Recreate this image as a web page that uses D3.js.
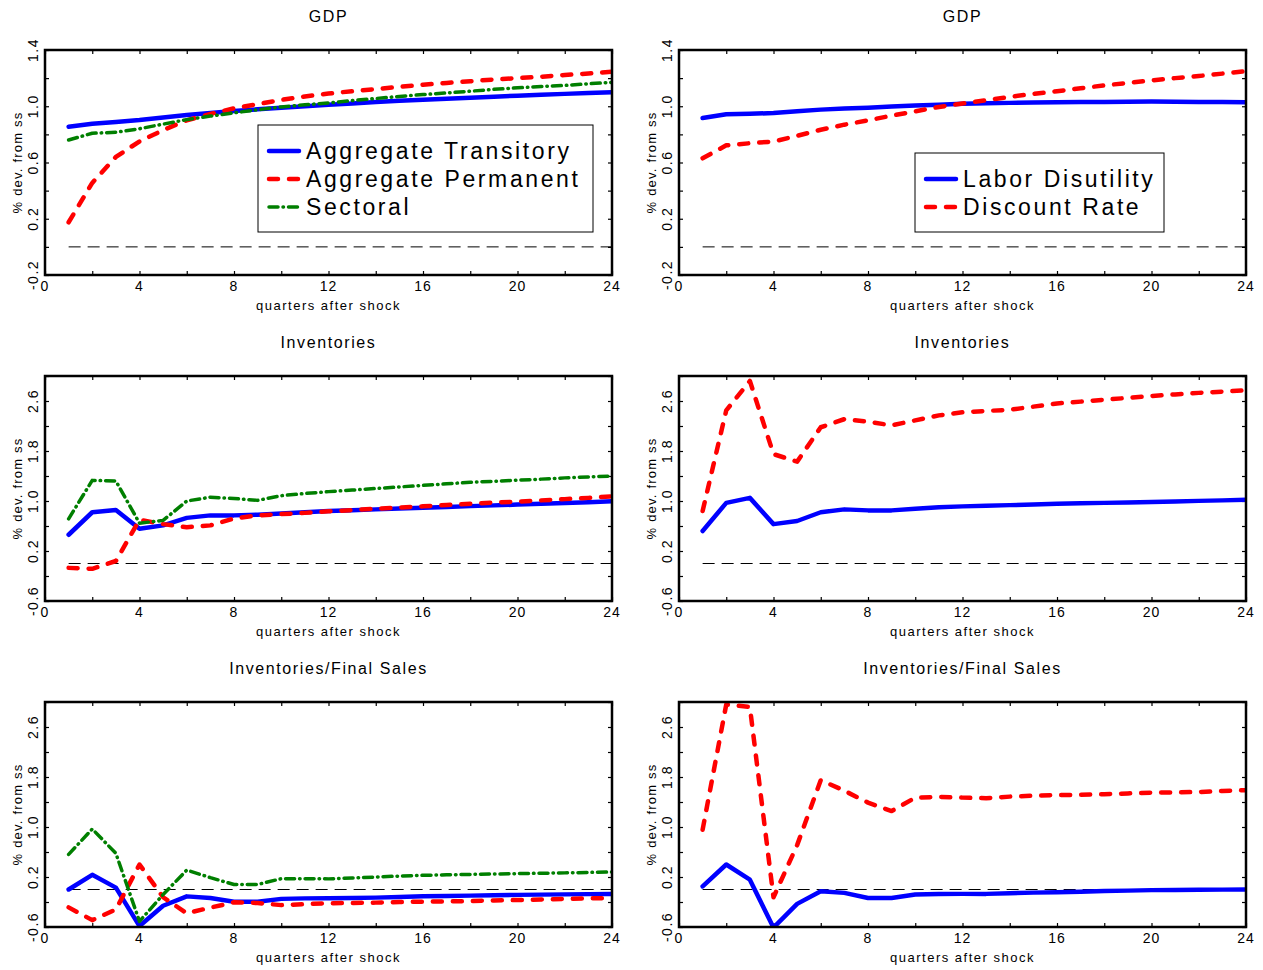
<!DOCTYPE html>
<html>
<head>
<meta charset="utf-8">
<script src="https://cdn.jsdelivr.net/npm/d3@7"></script>
<style>
body { margin: 0; background: #fff; }
text { font-family: "Liberation Sans", Arial, sans-serif; fill: #000; }
</style>
</head>
<body>
<div id="chart"></div>
<script>
// quarters after the shock
var quarters = [1,2,3,4,5,6,7,8,9,10,11,12,13,14,15,16,17,18,19,20,21,22,23,24];

var xTickLabels = [0,4,8,12,16,20,24];
var yLabelsGdp = ["-0.2","0.2","0.6","1.0","1.4"];
var yLabelsInv = ["-0.6","0.2","1.0","1.8","2.6"];

// GDP, aggregate / sectoral shocks
var gdpTransitory = [0.855,0.875,0.888,0.902,0.92,0.937,0.952,0.966,0.978,0.99,1.0,1.01,1.02,1.03,1.039,1.047,1.054,1.061,1.068,1.075,1.082,1.088,1.094,1.10];
var gdpPermanent  = [0.175,0.455,0.64,0.75,0.83,0.9,0.945,0.985,1.015,1.045,1.07,1.09,1.107,1.122,1.138,1.153,1.166,1.178,1.19,1.2,1.21,1.222,1.233,1.245];
var gdpSectoral   = [0.76,0.808,0.815,0.84,0.873,0.905,0.93,0.953,0.975,0.995,1.01,1.024,1.04,1.055,1.07,1.083,1.095,1.107,1.12,1.131,1.14,1.148,1.16,1.17];
// GDP, preference shocks
var gdpLabor    = [0.916,0.943,0.946,0.952,0.965,0.976,0.984,0.99,0.998,1.005,1.011,1.017,1.021,1.024,1.027,1.029,1.03,1.031,1.032,1.033,1.032,1.031,1.03,1.029];
var gdpDiscount = [0.63,0.722,0.737,0.749,0.79,0.833,0.869,0.90,0.933,0.964,0.995,1.019,1.043,1.067,1.088,1.107,1.128,1.148,1.166,1.184,1.2,1.215,1.232,1.25];

// Inventories
var invTransitory = [0.46,0.82,0.855,0.555,0.61,0.73,0.77,0.77,0.78,0.80,0.82,0.84,0.853,0.866,0.879,0.892,0.905,0.918,0.93,0.943,0.955,0.967,0.98,0.995];
var invPermanent  = [-0.07,-0.085,0.04,0.70,0.63,0.58,0.61,0.72,0.77,0.79,0.81,0.835,0.855,0.875,0.895,0.915,0.935,0.955,0.975,0.99,1.01,1.03,1.05,1.075];
var invSectoral   = [0.715,1.33,1.32,0.645,0.69,1.0,1.06,1.04,1.01,1.085,1.12,1.15,1.175,1.2,1.225,1.25,1.275,1.3,1.315,1.333,1.35,1.37,1.385,1.40];
var invLabor    = [0.52,0.97,1.05,0.63,0.68,0.82,0.866,0.85,0.85,0.876,0.90,0.914,0.924,0.934,0.945,0.957,0.963,0.97,0.977,0.984,0.993,1.002,1.01,1.02];
var invDiscount = [0.84,2.45,2.92,1.75,1.63,2.18,2.31,2.27,2.21,2.29,2.37,2.42,2.44,2.46,2.51,2.56,2.59,2.62,2.65,2.68,2.705,2.73,2.75,2.77];

// Inventories / Final Sales
var isTransitory = [0.0,0.235,0.03,-0.585,-0.26,-0.11,-0.135,-0.195,-0.195,-0.15,-0.142,-0.14,-0.135,-0.13,-0.12,-0.108,-0.103,-0.098,-0.092,-0.086,-0.082,-0.078,-0.074,-0.07];
var isPermanent  = [-0.286,-0.49,-0.32,0.40,-0.124,-0.38,-0.29,-0.205,-0.216,-0.25,-0.235,-0.22,-0.215,-0.21,-0.2,-0.195,-0.19,-0.185,-0.175,-0.168,-0.16,-0.15,-0.142,-0.135];
var isSectoral   = [0.562,0.968,0.578,-0.51,-0.08,0.31,0.19,0.08,0.08,0.173,0.173,0.17,0.185,0.2,0.215,0.227,0.235,0.242,0.248,0.254,0.26,0.266,0.273,0.28];
var isLabor    = [0.05,0.40,0.157,-0.61,-0.23,-0.027,-0.054,-0.135,-0.135,-0.08,-0.072,-0.07,-0.07,-0.06,-0.05,-0.043,-0.035,-0.025,-0.018,-0.01,-0.007,-0.004,-0.002,0.0];
var isDiscount = [0.957,2.96,2.92,-0.125,0.71,1.75,1.58,1.39,1.255,1.47,1.48,1.47,1.46,1.486,1.5,1.51,1.517,1.524,1.537,1.55,1.555,1.56,1.575,1.59];

// line styles
var styles = {
  blue:  {color: "#0000ff", width: 4.5, dash: null, cap: "round"},
  red:   {color: "#ff0000", width: 4.5, dash: "9,11", cap: "round"},
  green: {color: "#007f00", width: 3.5, dash: "9,5,0.5,5", cap: "round"}
};

var width = 1263, height = 970;
var colX = [45, 679], rowY = [50, 376, 702];
var plotW = 567, plotH = 225;

var panels = [
  {title: "GDP", row: 0, col: 0, dom: [-0.2, 1.4], step: 0.2, labels: yLabelsGdp,
   series: [[gdpTransitory,"blue"],[gdpPermanent,"red"],[gdpSectoral,"green"]],
   legend: {x: 258, y: 125, w: 335, h: 107, names: ["Aggregate Transitory","Aggregate Permanent","Sectoral"], keys: ["blue","red","green"]}},
  {title: "GDP", row: 0, col: 1, dom: [-0.2, 1.4], step: 0.2, labels: yLabelsGdp,
   series: [[gdpLabor,"blue"],[gdpDiscount,"red"]],
   legend: {x: 915, y: 153, w: 249, h: 79, names: ["Labor Disutility","Discount Rate"], keys: ["blue","red"]}},
  {title: "Inventories", row: 1, col: 0, dom: [-0.6, 3.0], step: 0.4, labels: yLabelsInv,
   series: [[invTransitory,"blue"],[invPermanent,"red"],[invSectoral,"green"]]},
  {title: "Inventories", row: 1, col: 1, dom: [-0.6, 3.0], step: 0.4, labels: yLabelsInv,
   series: [[invLabor,"blue"],[invDiscount,"red"]]},
  {title: "Inventories/Final Sales", row: 2, col: 0, dom: [-0.6, 3.0], step: 0.4, labels: yLabelsInv,
   series: [[isTransitory,"blue"],[isPermanent,"red"],[isSectoral,"green"]]},
  {title: "Inventories/Final Sales", row: 2, col: 1, dom: [-0.6, 3.0], step: 0.4, labels: yLabelsInv,
   series: [[isLabor,"blue"],[isDiscount,"red"]]}
];

var svg = d3.select("#chart").append("svg")
  .attr("width", width)
  .attr("height", height);

panels.forEach(function(p, pi) {
  var x = d3.scaleLinear().domain([0, 24]).range([0, plotW]);
  var y = d3.scaleLinear().domain(p.dom).range([plotH, 0]);
  var g = svg.append("g")
    .attr("transform", "translate(" + colX[p.col] + "," + rowY[p.row] + ")");

  var yTicks = d3.range(p.dom[0], p.dom[1] + 1e-9, p.step);
  var xTicks = d3.range(0, 25, 2);

  // inward ticks on all four sides
  g.append("g").attr("transform", "translate(0," + plotH + ")")
    .call(d3.axisBottom(x).tickValues(xTicks).tickSize(-4).tickFormat(""));
  g.append("g")
    .call(d3.axisTop(x).tickValues(xTicks).tickSize(-4).tickFormat(""));
  g.append("g")
    .call(d3.axisLeft(y).tickValues(yTicks).tickSize(-4).tickFormat(""));
  g.append("g").attr("transform", "translate(" + plotW + ",0)")
    .call(d3.axisRight(y).tickValues(yTicks).tickSize(-4).tickFormat(""));
  g.selectAll(".domain").remove();
  g.selectAll(".tick line").attr("stroke", "#000").attr("stroke-width", 1.2);

  // zero line
  g.append("line")
    .attr("x1", x(1)).attr("x2", x(24))
    .attr("y1", y(0)).attr("y2", y(0))
    .attr("stroke", "#000").attr("stroke-width", 1)
    .attr("stroke-dasharray", "12,7");

  var clipId = "clip" + pi;
  g.append("clipPath").attr("id", clipId)
    .append("rect").attr("width", plotW).attr("height", plotH);

  var line = d3.line()
    .x(function(d, i) { return x(quarters[i]); })
    .y(function(d) { return y(d); });

  p.series.forEach(function(s) {
    var st = styles[s[1]];
    g.append("path")
      .datum(s[0])
      .attr("clip-path", "url(#" + clipId + ")")
      .attr("fill", "none")
      .attr("stroke", st.color)
      .attr("stroke-width", st.width)
      .attr("stroke-linecap", st.cap)
      .attr("stroke-linejoin", "round")
      .attr("stroke-dasharray", st.dash)
      .attr("d", line);
  });

  // frame
  g.append("rect")
    .attr("width", plotW).attr("height", plotH)
    .attr("fill", "none").attr("stroke", "#000").attr("stroke-width", 2.5);

  // x tick labels
  g.selectAll(".xl").data(xTickLabels).enter().append("text")
    .attr("x", function(d) { return x(d); })
    .attr("y", plotH + 16)
    .attr("text-anchor", "middle")
    .style("font-size", "14px")
    .style("letter-spacing", "1px")
    .text(function(d) { return d; });

  // y tick labels, rotated
  g.selectAll(".yl").data(p.labels).enter().append("text")
    .attr("transform", function(d) { return "translate(-7," + y(+d) + ") rotate(-90)"; })
    .attr("text-anchor", "middle")
    .style("font-size", "14px")
    .style("letter-spacing", "1.5px")
    .text(function(d) { return d; });

  // titles
  g.append("text")
    .attr("x", plotW / 2).attr("y", -28)
    .attr("text-anchor", "middle")
    .style("font-size", "16px")
    .style("letter-spacing", "1.6px")
    .text(p.title);
  g.append("text")
    .attr("x", plotW / 2).attr("y", plotH + 35)
    .attr("text-anchor", "middle")
    .style("font-size", "13px")
    .style("letter-spacing", "1.5px")
    .text("quarters after shock");
  g.append("text")
    .attr("transform", "translate(-23," + (plotH / 2) + ") rotate(-90)")
    .attr("text-anchor", "middle")
    .style("font-size", "13px")
    .style("letter-spacing", "1.2px")
    .text("% dev. from ss");

  if (p.legend) {
    var L = p.legend;
    var lg = svg.append("g").attr("transform", "translate(" + L.x + "," + L.y + ")");
    lg.append("rect")
      .attr("width", L.w).attr("height", L.h)
      .attr("fill", "#fff").attr("stroke", "#000").attr("stroke-width", 1);
    L.names.forEach(function(name, i) {
      var st = styles[L.keys[i]];
      var ly = 26 + i * 28;
      lg.append("line")
        .attr("x1", 11).attr("x2", 41)
        .attr("y1", ly).attr("y2", ly)
        .attr("stroke", st.color)
        .attr("stroke-width", st.width)
        .attr("stroke-linecap", st.cap)
        .attr("stroke-dasharray", st.dash);
      lg.append("text")
        .attr("x", 48).attr("y", ly + 8)
        .style("font-size", "23px")
        .style("letter-spacing", "2.6px")
        .text(name);
    });
  }
});
</script>
</body>
</html>
